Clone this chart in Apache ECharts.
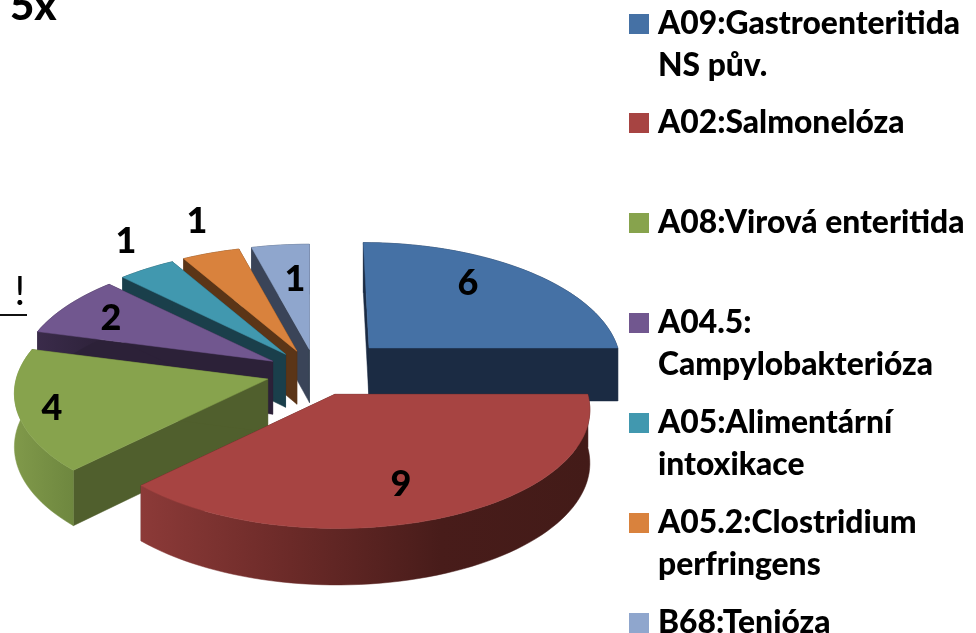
<!DOCTYPE html>
<html>
<head>
<meta charset="utf-8">
<style>html,body{margin:0;padding:0;background:#fff}#c{width:976px;height:633px}</style>
<script src="https://cdn.jsdelivr.net/npm/echarts@6/dist/echarts.min.js"></script>
</head>
<body>
<div id="c"></div>
<script>
const categories = ['A09:Gastroenteritida\nNS pův.', 'A02:Salmonelóza', 'A08:Virová enteritida', 'A04.5:\nCampylobakterióza', 'A05:Alimentární\nintoxikace', 'A05.2:Clostridium\nperfringens', 'B68:Tenióza'];
const values = [6, 9, 4, 2, 1, 1, 1];
const topColors = ['#4571A5', '#A74442', '#87A34D', '#71578F', '#4198AF', '#D9823D', '#8FA6CD'];
const faceColors = ['#1B2B43', '#451B19', '#505F2D', '#2C2138', '#1A3F4B', '#5B3517', '#3A4458'];
const wallStops = [['#1B2B43', '#1B2B43'], ['#8C3A38', '#6B2A28', '#481C1A', '#431B18'], ['#80994A', '#6E873F'], ['#3A2B4A', '#2C2138'], ['#1A3F4B', '#1A3F4B'], ['#5B3517', '#5B3517'], ['#3A4458', '#3A4458']];
const explode = [75, 49, 50, 50, 50, 50, 50];
const widthScale = [0.995, 1.012, 1.006, 1.004, 1, 1, 1];
const drawRank = [4, 6, 5, 3, 2, 1, 0];
const labelPos = [[468, 283], [401, 484], [52, 408], [111, 318], [126, 241], [197, 221], [295, 279]];
const legendTop = [14, 113, 213, 313, 413, 513, 613];

const CX = 316, CY = 373, R = 250, SQUASH = 0.472, PERSP = 0.12, DEPTH = 53, VANISH_X = 316;
const total = values.reduce((a, b) => a + b, 0);
const rad = d => d * Math.PI / 180;
const persp = t => 1 / (1 + PERSP * Math.cos(t));
const TAU = Math.PI * 2;

function renderItem(params, api) {
  const i = params.dataIndex;
  let before = 0;
  for (let k = 0; k < i; k++) before += values[k];
  const a0 = before / total * TAU;
  const a1 = (before + api.value(0)) / total * TAU;
  const mid = (a0 + a1) / 2;
  const tip = [CX + explode[i] * Math.sin(mid), CY - explode[i] * SQUASH * Math.cos(mid)];
  const rim = t => {
    const p = persp(t);
    return [
      tip[0] + R * widthScale[i] * Math.sin(t) * p + Math.max(0, tip[0] - VANISH_X) * (p - 1),
      tip[1] - R * SQUASH * Math.cos(t) * p
    ];
  };
  const drop = (pt, t) => [pt[0], pt[1] + DEPTH * Math.sqrt(persp(t))];
  const tipLow = [tip[0], tip[1] + DEPTH];
  const arc = [], low = [];
  const steps = Math.max(8, Math.round((a1 - a0) / rad(2)));
  for (let s = 0; s <= steps; s++) {
    const t = a0 + (a1 - a0) * s / steps;
    const q = rim(t);
    arc.push(q);
    low.push(drop(q, t));
  }
  const base = drawRank[i] * 10;
  const poly = (points, fill, z) => ({
    type: 'polygon', z2: base + z, shape: { points },
    style: { fill, stroke: fill, lineWidth: 0.5 }
  });
  const stops = wallStops[i];
  const grad = new echarts.graphic.LinearGradient(0, 0, 1, 0,
    stops.map((c, n) => ({ offset: n / (stops.length - 1), color: c })));
  return {
    type: 'group',
    children: [
      poly([tip, arc[0], low[0], tipLow], faceColors[i], 0),
      poly([tip, arc[arc.length - 1], low[low.length - 1], tipLow], faceColors[i], 1),
      poly(arc.concat(low.slice().reverse()), grad, 2),
      poly([tip].concat(arc), topColors[i], 3),
      {
        type: 'text', z2: 200,
        style: {
          text: String(api.value(0)), x: labelPos[i][0], y: labelPos[i][1],
          align: 'center', verticalAlign: 'middle',
          font: '900 36px Lato', fill: '#000'
        }
      }
    ]
  };
}

const legendGraphics = [];
categories.forEach((name, i) => {
  legendGraphics.push({ type: 'rect', shape: { x: 629, y: legendTop[i], width: 20, height: 20 }, style: { fill: topColors[i] } });
  legendGraphics.push({
    type: 'text', x: 658, y: legendTop[i] - 11,
    style: { text: name, font: '900 31.8px Lato', fill: '#000', lineHeight: 42, verticalAlign: 'top' }
  });
});

const chart = echarts.init(document.getElementById('c'), null, { renderer: 'canvas' });
chart.setOption({
  animation: false,
  backgroundColor: '#fff',
  graphic: legendGraphics.concat([
    { type: 'text', x: 10, y: 27, style: { text: '5x', font: '900 42px Lato', fill: '#000', verticalAlign: 'bottom' } },
    { type: 'text', x: 20, y: 292, style: { text: '!', font: '40px Lato', fill: '#000', align: 'center', verticalAlign: 'middle' } },
    { type: 'line', shape: { x1: 0, y1: 315, x2: 27, y2: 315 }, style: { stroke: '#111', lineWidth: 2 } }
  ]),
  series: [{
    type: 'custom',
    coordinateSystem: 'none',
    renderItem,
    data: values.map((v, i) => ({ name: categories[i], value: [v] }))
  }]
});
</script>
</body>
</html>
